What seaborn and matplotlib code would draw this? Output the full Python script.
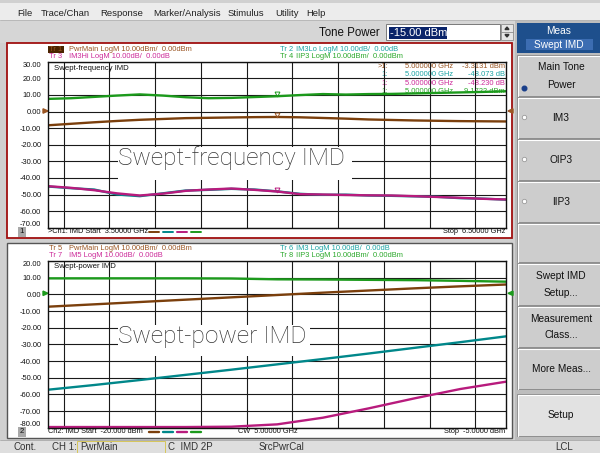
import matplotlib
matplotlib.use("Agg")
import matplotlib.pyplot as plt
import seaborn as sns
from matplotlib.patches import Rectangle, Polygon, Circle
from matplotlib.ticker import MultipleLocator

# ---- values ----
freq_ghz = [3.5, 3.65, 3.8, 3.95, 4.1, 4.25, 4.4, 4.55, 4.7, 4.85, 5.0,
            5.15, 5.3, 5.45, 5.6, 5.75, 5.9, 6.05, 6.2, 6.35, 6.5]
f_pwrmain = [-8.3, -7.4, -6.5, -5.7, -5.0, -4.5, -4.0, -3.8, -3.6, -3.4, -3.3,
             -3.5, -3.9, -4.3, -4.8, -5.1, -5.4, -5.6, -5.8, -5.9, -6.0]
f_im3lo = [-45.2, -46.2, -47.0, -50.0, -51.0, -49.3, -47.6, -47.2, -46.6, -47.0, -48.1,
           -49.6, -50.2, -50.1, -50.6, -50.8, -51.1, -51.4, -52.2, -52.5, -53.1]
f_im3hi = [-45.0, -46.0, -47.4, -49.3, -50.6, -49.5, -47.8, -47.0, -46.4, -47.2, -48.2,
           -49.8, -50.0, -50.3, -50.5, -50.6, -51.0, -51.5, -52.0, -52.6, -53.0]
f_iip3 = [7.6, 8.0, 8.8, 9.6, 10.3, 9.6, 8.6, 8.0, 8.2, 8.7, 9.2,
          9.9, 10.5, 10.2, 10.5, 10.6, 10.9, 11.2, 11.5, 11.8, 12.2]
f_yticks = [30, 20, 10, 0, -10, -20, -30, -40, -50, -60, -70]

pwr_dbm = [-20.0, -18.5, -17.0, -15.5, -14.0, -12.5, -11.0, -9.5, -8.0, -6.5, -5.0]
p_pwrmain = [-7.4, -6.0, -4.6, -3.2, -1.8, -0.4, 1.0, 2.3, 3.6, 4.8, 5.9]
p_im3 = [-57.2, -54.4, -51.4, -48.3, -45.2, -42.0, -38.8, -35.5, -32.1, -28.7, -25.2]
p_im5 = [-79.6, -79.6, -79.6, -79.6, -79.4, -78.0, -74.0, -68.4, -62.4, -56.8, -52.4]
p_iip3 = [9.6, 9.6, 9.6, 9.6, 9.5, 9.0, 8.9, 8.7, 8.5, 8.1, 7.6]
p_yticks = [20, 10, 0, -10, -20, -30, -40, -50, -60, -70, -80]

marker_rows = [(">1:", "5.000000 GHz", "-3.3131 dBm"),
               ("1:", "5.000000 GHz", "-48.073 dB"),
               ("1:", "5.000000 GHz", "-48.230 dB"),
               ("1:", "5.000000 GHz", "9.1722 dBm")]
menu_items = ["File", "Trace/Chan", "Response", "Marker/Analysis", "Stimulus", "Utility", "Help"]
menu_x = [17, 41, 100, 153, 228, 275, 306]

BROWN, TEAL, MAGENTA, GREEN = "#7b3f0c", "#00878a", "#b81b7d", "#1c9a1c"
BROWN_T, TEAL_T, MAG_T, GREEN_T = "#9a5522", "#1aa3a3", "#cc2a99", "#2aa82a"

sns.set_style("white")
plt.rcParams['font.family'] = ['Liberation Sans', 'DejaVu Sans']

fig = plt.figure(figsize=(6, 4.53), dpi=100)
bg = fig.add_axes([0, 0, 1, 1])
bg.set_xlim(0, 600)
bg.set_ylim(453, 0)
bg.axis("off")


def box(ax, x0, y0, x1, y1, fc, ec="none", lw=0, z=1):
    ax.add_patch(Rectangle((x0, y0), x1 - x0, y1 - y0, facecolor=fc,
                           edgecolor=ec, linewidth=lw, zorder=z))


def txt(ax, x, y, s, size=5.4, color="#111111", ha="left", **kw):
    ax.text(x, y, s, fontsize=size, color=color, ha=ha, va="center", **kw)


# window chrome
box(bg, 0, 0, 600, 453, "#d0d0d0")
box(bg, 0, 3, 600, 20, "#ececec")
box(bg, 0, 20, 600, 43, "#d6d6d6")
bg.plot([0, 600], [20, 20], color="#b4b4b4", lw=0.6)
for name, x in zip(menu_items, menu_x):
    txt(bg, x, 13, name, size=6.8, color="#222222")

txt(bg, 319, 32.5, "Tone Power", size=8.3, color="#111111")
box(bg, 386, 24, 500, 40, "white", ec="#7a7a7a", lw=0.7)
box(bg, 389, 26.5, 447, 38.5, "#0a246a")
txt(bg, 389.5, 32.5, "-15.00 dBm", size=8, color="white")
box(bg, 501, 24, 513, 40, "#e6e6e6", ec="#8c8c8c", lw=0.6)
bg.plot([501, 513], [32, 32], color="#8c8c8c", lw=0.6)
bg.add_patch(Polygon([(505, 29.5), (509, 29.5), (507, 27)], color="#333333"))
bg.add_patch(Polygon([(505, 34.5), (509, 34.5), (507, 37)], color="#333333"))

# soft keys
box(bg, 515, 20, 600, 440, "#bdbdbd")
box(bg, 517, 23, 600, 53, "#1e4f8c")
txt(bg, 559, 31, "Meas", size=7.3, color="white", ha="center")
box(bg, 526, 39, 593, 50, "#3c6db2")
txt(bg, 559, 44.5, "Swept IMD", size=7.3, color="white", ha="center")

keys = [(55, 96, ["Main Tone", "Power"], "on"),
        (97, 138, ["IM3"], "off"),
        (139, 180, ["OIP3"], "off"),
        (181, 222, ["IIP3"], "off"),
        (223, 262, [], None),
        (263, 305, ["Swept IMD", "Setup..."], None),
        (306, 347, ["Measurement", "Class..."], None),
        (348, 389, ["More Meas..."], None),
        (394, 436, ["Setup"], None)]
for y0, y1, lines, radio in keys:
    face = "#e2e2e2" if lines == ["Setup"] else "#cdcdcd"
    box(bg, 517, y0, 600, y1, face, ec="#8e8e8e", lw=0.7)
    bg.plot([518, 600], [y0 + 0.8, y0 + 0.8], color="white", lw=0.8)
    bg.plot([518, 518], [y0 + 0.8, y1], color="white", lw=0.8)
    mid = (y0 + y1) / 2
    if len(lines) == 2:
        txt(bg, 561, mid - 8, lines[0], size=7.3, ha="center")
        txt(bg, 561, mid + 9, lines[1], size=7.3, ha="center")
    elif lines:
        txt(bg, 561, mid + 0.5, lines[0], size=7.3, ha="center")
    if radio == "on":
        bg.add_patch(Circle((524.5, mid + 13), 2.3, color="#1a3f8a", zorder=3))
    elif radio == "off":
        bg.add_patch(Circle((524.5, mid), 2.2, facecolor="white",
                            edgecolor="#9a9a9a", lw=0.6, zorder=3))

# plot windows and status bar
box(bg, 7, 43, 512, 238, "white", ec="#a01010", lw=1.3)
box(bg, 7, 243, 512, 438, "white", ec="#555555", lw=1.0)
box(bg, 0, 440, 600, 453, "#dedede")
bg.plot([0, 600], [440, 440], color="#a8a8a8", lw=0.6)
box(bg, 77, 441, 165, 453, "none", ec="#d6c65a", lw=0.7)
for s, x in [("Cont.", 14), ("CH 1:", 52), ("PwrMain", 80), ("C  IMD 2P", 168),
             ("SrcPwrCal", 259), ("LCL", 555)]:
    txt(bg, x, 447.5, s, size=7, color="#333333")


def header(y_top, left, right):
    for (tag, rest, col, hl), y in zip(left, [y_top, y_top + 7]):
        if hl:
            box(bg, 48, y - 3.5, 64, y + 3.5, "#4a2400")
        txt(bg, 49, y, tag, color=col)
        txt(bg, 69, y, rest, color=col)
    for (tag, rest, col), y in zip(right, [y_top, y_top + 7]):
        txt(bg, 280, y, tag, color=col)
        txt(bg, 296, y, rest, color=col)


header(49.5,
       [("Tr 1", "PwrMain LogM 10.00dBm/  0.00dBm", BROWN_T, True),
        ("Tr 3", "IM3Hi LogM 10.00dB/  0.00dB", MAG_T, False)],
       [("Tr 2", "IM3Lo LogM 10.00dB/  0.00dB", TEAL_T),
        ("Tr 4", "IIP3 LogM 10.00dBm/  0.00dBm", GREEN_T)])
header(248.5,
       [("Tr 5", "PwrMain LogM 10.00dBm/  0.00dBm", BROWN_T, False),
        ("Tr 7", "IM5 LogM 10.00dB/  0.00dB", MAG_T, False)],
       [("Tr 6", "IM3 LogM 10.00dB/  0.00dB", TEAL_T),
        ("Tr 8", "IIP3 LogM 10.00dBm/  0.00dBm", GREEN_T)])

txt(bg, 54, 68, "Swept-frequency IMD", size=5.6)
txt(bg, 54, 266.5, "Swept-power IMD", size=5.6)
for (a, b, c), y, col in zip(marker_rows, [66, 74.6, 83.2, 91.8],
                             [BROWN_T, TEAL_T, MAG_T, GREEN_T]):
    txt(bg, 388, y, a, color=col, ha="right")
    txt(bg, 453, y, b, color=col, ha="right")
    txt(bg, 505, y, c, color=col, ha="right")

# channel footers with trace legend dashes
for y, num, start, stop in [(231.5, "1", ">Ch1: IMD Start  3.50000 GHz", "Stop  6.50000 GHz"),
                            (431.5, "2", "Ch2: IMD Start  -20.000 dBm", "Stop  -5.0000 dBm")]:
    box(bg, 17.5, y - 5, 26, y + 5.5, "#a9a9a9")
    txt(bg, 19.5, y + 0.3, num, size=5.6)
    txt(bg, 48, y, start, size=5.3)
    txt(bg, 505, y, stop, size=5.3, ha="right")
    for x0, col in zip([149, 163, 177, 191], [BROWN, TEAL, MAGENTA, GREEN]):
        bg.plot([x0, x0 + 10], [y, y], color=col, lw=1.4 if num == "1" else 1.7)
txt(bg, 238, 431.5, "CW  5.00000 GHz", size=5.3)

# reference level arrows
bg.add_patch(Polygon([(43, 108.8), (48, 111), (43, 113.2)], color=BROWN_T, zorder=3))
bg.add_patch(Polygon([(513, 108.8), (508, 111), (513, 113.2)], color=BROWN_T, zorder=3))
bg.add_patch(Polygon([(43, 291.1), (48, 293.3), (43, 295.5)], color=GREEN, zorder=3))
bg.add_patch(Polygon([(513, 291.1), (508, 293.3), (513, 295.5)], color=GREEN, zorder=3))


def plot_axes(y0, y1):
    ax = fig.add_axes([48.3 / 600, 1 - y1 / 453, (506 - 48.3) / 600, (y1 - y0) / 453])
    ax.set_facecolor("none")
    return ax


def style(ax, xlim, step, yticks):
    ax.set_xlim(*xlim)
    ax.set_ylim(yticks[-1], yticks[0])
    ax.xaxis.set_major_locator(MultipleLocator(step))
    ax.set_yticks(yticks)
    ax.set_yticklabels([f"{v:.2f}" for v in yticks])
    ax.tick_params(axis="y", length=0, pad=5, labelsize=5.4, labelcolor="#111111")
    ax.tick_params(axis="x", length=0, labelbottom=False)
    ax.grid(True, color="#1a1a1a", lw=0.8)
    ax.set_axisbelow(True)
    labels = ax.get_yticklabels()
    labels[0].set_va("top")
    labels[-1].set_va("bottom")
    for sp in ax.spines.values():
        sp.set_color("#111111")
        sp.set_linewidth(1.0)
    ax.set_xlabel("")
    ax.set_ylabel("")


ax_f = plot_axes(61.7, 227.7)
sns.lineplot(x=freq_ghz, y=f_im3lo, ax=ax_f, color=TEAL, lw=1.7)
sns.lineplot(x=freq_ghz, y=f_im3hi, ax=ax_f, color=MAGENTA, lw=1.7)
sns.lineplot(x=freq_ghz, y=f_pwrmain, ax=ax_f, color=BROWN, lw=1.7)
sns.lineplot(x=freq_ghz, y=f_iip3, ax=ax_f, color=GREEN, lw=1.7)
i5 = freq_ghz.index(5.0)
for series, col in [(f_pwrmain, BROWN_T), (f_iip3, GREEN), (f_im3hi, MAGENTA)]:
    ax_f.plot([5.0], [series[i5] + 1.2], marker="v", ms=3.5, mfc="none", mec=col, mew=0.7)
style(ax_f, (3.5, 6.5), 0.3, f_yticks)

ax_p = plot_axes(261, 427.7)
sns.lineplot(x=pwr_dbm, y=p_im3, ax=ax_p, color=TEAL, lw=1.7)
sns.lineplot(x=pwr_dbm, y=p_im5, ax=ax_p, color=MAGENTA, lw=1.7)
sns.lineplot(x=pwr_dbm, y=p_pwrmain, ax=ax_p, color=BROWN, lw=1.7)
sns.lineplot(x=pwr_dbm, y=p_iip3, ax=ax_p, color=GREEN, lw=1.7)
style(ax_p, (-20, -5), 1.5, p_yticks)

# callout labels on top of everything
ov = fig.add_axes([0, 0, 1, 1])
ov.set_xlim(0, 600)
ov.set_ylim(453, 0)
ov.axis("off")
box(ov, 118, 147, 352, 180, "white")
box(ov, 118, 324.5, 310, 356, "white")
for x, y, s in [(118, 158, "Swept-frequency IMD"), (118, 337, "Swept-power IMD")]:
    ov.text(x, y, s, fontsize=17.6, family=["Roboto", "DejaVu Sans"], fontweight="light",
            color="#333333", ha="left", va="center")

fig.savefig("out.png", dpi=100)
